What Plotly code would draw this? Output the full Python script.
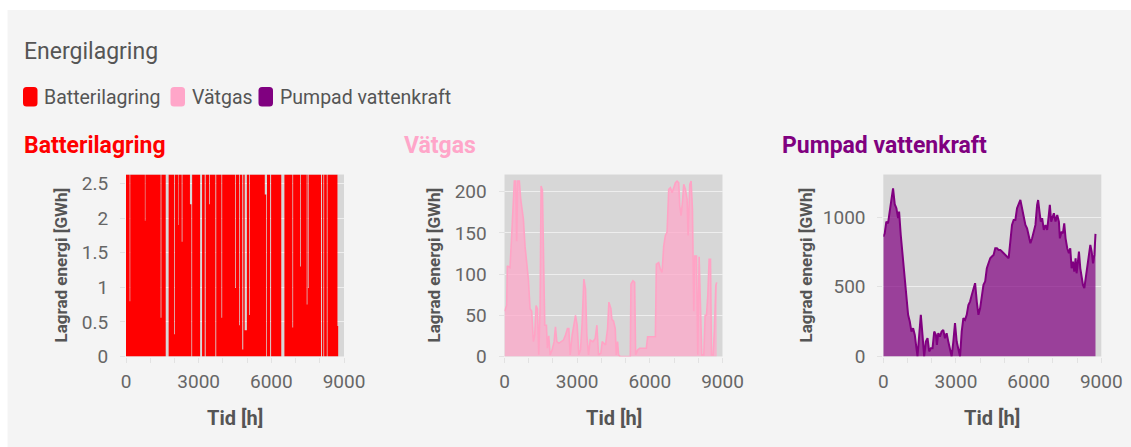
import plotly.graph_objects as go

W, H = 1131, 447

# ---------------- data ----------------
tick_hours = [0, 3000, 6000, 9000]

# Batterilagring: stored energy (GWh) as a step series (value holds from each hour)
batt_hours = [0, 150, 175, 780, 800, 1430, 1460, 1640, 1760, 1990, 2020, 2160, 2180, 2300, 2330,
              2640, 2700, 2730, 3060, 3140, 3250, 3290, 3430, 3460, 3690, 3725, 3940, 3970, 4500,
              4530, 4670, 4700, 4800, 4840, 4900, 4990, 5080, 5110, 5730, 5790, 5820, 5950, 5990,
              6410, 6540, 6870, 6900, 7190, 7220, 7460, 7490, 7530, 7555, 8050, 8090, 8150, 8180,
              8290, 8320, 8730, 8760]
batt_gwh = [2.63, 0.8, 2.63, 1.96, 2.63, 0.56, 2.63, 0.0, 2.63, 0.32, 2.63, 1.9, 2.63, 1.66, 2.63,
            2.2, 0.0, 2.63, 0.0, 2.63, 0.0, 2.63, 2.2, 2.63, 0.0, 2.63, 0.56, 2.63, 0.99,
            2.63, 0.45, 2.63, 0.1, 2.63, 0.38, 2.63, 0.6, 2.63, 2.34, 0.0, 2.63, 0.0, 2.63,
            0.0, 2.63, 0.42, 2.63, 1.3, 2.63, 0.75, 2.63, 0.99, 2.63, 0.0, 2.63, 0.0, 2.63,
            0.0, 2.63, 0.44, 0.44]

# Vätgas
h2_hours = [0, 90, 117, 227, 296, 365, 407, 462, 503, 544, 613, 669, 724, 779, 848, 917, 986, 1055,
            1124, 1193, 1248, 1303, 1359, 1414, 1469, 1510, 1566, 1621, 1662, 1731, 1772, 1828,
            1883, 1966, 2048, 2104, 2159, 2242, 2325, 2435, 2518, 2600, 2656, 2711, 2793, 2849,
            2931, 3000, 3069, 3138, 3207, 3276, 3345, 3400, 3469, 3538, 3648, 3745, 3814, 3883,
            3979, 4034, 4172, 4255, 4310, 4393, 4434, 4503, 4572, 4614, 4669, 4710, 4779, 5193,
            5221, 5303, 5372, 5414, 5497, 5580, 5855, 5910, 6228, 6270, 6366, 6435, 6504, 6573,
            6642, 6711, 6780, 6849, 6918, 6987, 7056, 7125, 7194, 7235, 7290, 7345, 7400, 7469,
            7538, 7580, 7649, 7704, 7759, 7814, 7856, 7925, 7980, 8035, 8090, 8145, 8228, 8283,
            8338, 8393, 8448, 8504, 8545, 8614, 8669, 8724, 8760]
h2_gwh = [55, 62, 110, 108, 147, 187, 213, 213, 140, 213, 213, 191, 178, 167, 134, 114, 94, 58,
          55, 18, 26, 62, 58, 2, 58, 207, 202, 106, 38, 38, 10, 25,
          2, 8, 18, 36, 18, 16, 18, 20, 26, 34, 34, 2, 26, 38,
          50, 38, 2, 8, 42, 94, 82, 26, 2, 20, 18, 22, 38, 2,
          4, 18, 14, 34, 66, 58, 45, 43, 34, 2, 18, 2, 0, 0,
          88, 92, 90, 2, 8, 10, 10, 24, 24, 112, 114, 106, 102, 134,
          147, 151, 203, 205, 199, 205, 211, 213, 211, 183, 171, 187, 209, 203,
          191, 147, 209, 213, 179, 55, 122, 122, 2, 121, 58, 2, 2, 50,
          50, 74, 118, 118, 2, 2, 34, 86, 90]

# Pumpad vattenkraft
ph_hours = [0, 57, 126, 195, 264, 334, 403, 472, 541, 610, 652, 721, 817, 886, 955, 1024, 1093,
            1162, 1231, 1300, 1411, 1480, 1549, 1618, 1687, 1757, 1826, 1895, 1964, 2033, 2102,
            2172, 2213, 2269, 2338, 2407, 2476, 2545, 2614, 2684, 2753, 2822, 2891, 2960, 3029,
            3098, 3168, 3237, 3306, 3375, 3444, 3513, 3582, 3652, 3721, 3790, 3859, 3928, 3997,
            4066, 4136, 4205, 4274, 4343, 4414, 4483, 4553, 4622, 4691, 4760, 4829, 4898, 4968,
            5037, 5106, 5175, 5244, 5313, 5382, 5452, 5521, 5590, 5659, 5728, 5797, 5866, 5935,
            6005, 6074, 6143, 6212, 6281, 6350, 6392, 6447, 6502, 6558, 6627, 6696, 6765, 6834,
            6875, 6931, 6972, 7041, 7110, 7180, 7249, 7290, 7359, 7414, 7470, 7525, 7594, 7663,
            7718, 7774, 7829, 7884, 7939, 7980, 8022, 8077, 8133, 8188, 8243, 8299, 8354, 8423,
            8492, 8547, 8603, 8658, 8713, 8760]
ph_gwh = [860, 883, 968, 955, 1040, 1111, 1207, 1093, 1064, 993, 1040, 872, 681, 585, 442, 299, 251,
          179, 203, 155, 0, 155, 299, 155, 0, 107, 131, 36, 60, 60, 179,
          155, 84, 167, 143, 179, 191, 131, 167, 107, 48, 0, 107, 239, 107,
          60, 0, 179, 275, 263, 299, 370, 394, 442, 490, 526, 394, 299, 346,
          442, 514, 538, 633, 669, 705, 717, 729, 777, 777, 765, 765, 753, 741,
          729, 717, 705, 825, 944, 980, 980, 1064, 1088, 1123, 1064, 993, 944, 920,
          872, 813, 848, 896, 944, 1088, 1123, 1040, 968, 992, 908, 944, 908, 1016,
          1088, 968, 992, 1028, 968, 1016, 968, 848, 896, 884, 956, 848, 777, 741,
          777, 633, 681, 609, 705, 597, 657, 753, 633, 562, 514, 490, 562, 633,
          729, 801, 753, 669, 729, 880]

series_names = ["Batterilagring", "Vätgas", "Pumpad vattenkraft"]
series_colors = ["#ff0000", "#ffa6c9", "#800080"]
y_max = [2.63, 221, 1306]
y_dticks = [0.5, 50, 500]

# ---------------- layout helpers (pixel -> paper) ----------------
def px(x):
    return x / W

def py(y):
    return 1 - y / H

plot_left = [126, 504.5, 883.3]
plot_w = 218
plot_top, plot_bot = 174.5, 356.5
FONT = "Roboto, 'Noto Sans', sans-serif"

fig = go.Figure()

fig.add_trace(go.Scatter(x=batt_hours, y=batt_gwh, mode="lines", line_shape="hv",
                         line=dict(width=0, color=series_colors[0]), fill="tozeroy",
                         fillcolor=series_colors[0], xaxis="x", yaxis="y", showlegend=False,
                         hoverinfo="skip"))
fig.add_trace(go.Scatter(x=h2_hours, y=h2_gwh, mode="lines",
                         line=dict(width=1.6, color="#ffa3c5"), fill="tozeroy",
                         fillcolor="rgba(255,166,201,0.72)", xaxis="x2", yaxis="y2",
                         showlegend=False, hoverinfo="skip"))
fig.add_trace(go.Scatter(x=ph_hours, y=ph_gwh, mode="lines",
                         line=dict(width=2, color="#800080"), fill="tozeroy",
                         fillcolor="rgba(128,0,128,0.7)", xaxis="x3", yaxis="y3",
                         showlegend=False, hoverinfo="skip"))

layout = dict(
    width=W, height=H, autosize=False,
    margin=dict(l=0, r=0, t=0, b=0, pad=0),
    paper_bgcolor="#f4f4f4", plot_bgcolor="#d7d7d7",
    font=dict(family=FONT, color="#666"),
    showlegend=False,
)

for i in range(3):
    sx = "" if i == 0 else str(i + 1)
    layout["xaxis" + sx] = dict(
        domain=[px(plot_left[i]), px(plot_left[i] + plot_w)],
        anchor="y" + sx, range=[0, 9000], tickvals=tick_hours,
        ticktext=[str(t) for t in tick_hours],
        showgrid=False, zeroline=False, showline=False,
        ticks="outside", ticklen=5, tickcolor="#e2e2e2", ticklabelstandoff=3,
        minor=dict(dtick=1000, tick0=0, ticks="outside", ticklen=5, tickcolor="#e2e2e2"),
        tickfont=dict(size=19, color="#666", family=FONT), automargin=False, fixedrange=True,
    )
    layout["yaxis" + sx] = dict(
        domain=[py(plot_bot), py(plot_top)], anchor="x" + sx,
        range=[0, y_max[i]], dtick=y_dticks[i], tick0=0,
        showgrid=True, gridcolor="#eeeeee", gridwidth=1, zeroline=False, showline=False,
        ticks="outside", ticklen=5, tickcolor="#e2e2e2", ticklabelstandoff=8,
        tickfont=dict(size=19, color="#666", family=FONT), automargin=False, fixedrange=True,
    )

fig.update_layout(**layout)

shapes = [
    # white outer frame strips (top and left)
    dict(type="rect", xref="paper", yref="paper", x0=0, x1=1, y0=py(10), y1=1,
         fillcolor="white", line=dict(width=0), layer="below"),
    dict(type="rect", xref="paper", yref="paper", x0=0, x1=px(7.5), y0=0, y1=1,
         fillcolor="white", line=dict(width=0), layer="below"),
]

def rounded_rect(x0, y0, x1, y1, r):
    X0, X1 = px(x0), px(x1)
    Y0, Y1 = py(y0), py(y1)
    rx, ry = r / W, r / H
    return (f"M {X0+rx},{Y0} L {X1-rx},{Y0} Q {X1},{Y0} {X1},{Y0-ry} "
            f"L {X1},{Y1+ry} Q {X1},{Y1} {X1-rx},{Y1} L {X0+rx},{Y1} "
            f"Q {X0},{Y1} {X0},{Y1+ry} L {X0},{Y0-ry} Q {X0},{Y0} {X0+rx},{Y0} Z")

legend_x = [23, 170.5, 258.5]
legend_text_x = [41.5, 189.5, 277.5]
for i in range(3):
    shapes.append(dict(type="path", xref="paper", yref="paper",
                       path=rounded_rect(legend_x[i], 87, legend_x[i] + 14.5, 106.5, 3.5),
                       fillcolor=series_colors[i], line=dict(width=0)))

annotations = [
    dict(text="Energilagring", x=px(22), y=py(52), xref="paper", yref="paper",
         xanchor="left", yanchor="middle", showarrow=False,
         font=dict(size=23, color="#555", family=FONT)),
]
for i in range(3):
    annotations.append(dict(text=series_names[i], x=px(legend_text_x[i]), y=py(97.5),
                            xref="paper", yref="paper", xanchor="left", yanchor="middle",
                            showarrow=False, font=dict(size=19.5, color="#555", family=FONT)))

title_x = [22, 401.5, 779.5]
ytitle_x = [60, 433, 805]
for i in range(3):
    annotations.append(dict(text=f"<b>{series_names[i]}</b>", x=px(title_x[i]), y=py(145),
                            xref="paper", yref="paper", xanchor="left", yanchor="middle",
                            showarrow=False,
                            font=dict(size=23, color=series_colors[i], family=FONT)))
    annotations.append(dict(text="<b>Lagrad energi [GWh]</b>", x=px(ytitle_x[i]),
                            y=py((plot_top + plot_bot) / 2), xref="paper", yref="paper",
                            xanchor="center", yanchor="middle", textangle=-90, showarrow=False,
                            font=dict(size=17, color="#555", family=FONT)))
    annotations.append(dict(text="<b>Tid [h]</b>", x=px(plot_left[i] + plot_w / 2), y=py(418),
                            xref="paper", yref="paper", xanchor="center", yanchor="middle",
                            showarrow=False, font=dict(size=20, color="#555", family=FONT)))

fig.update_layout(shapes=shapes, annotations=annotations)

# remove the default page margin so the 1131x447 figure fills the window exactly
fig.write_html("out.html", config=dict(displayModeBar=False),
               post_script="document.body.style.margin='0';document.body.style.overflow='hidden';")
